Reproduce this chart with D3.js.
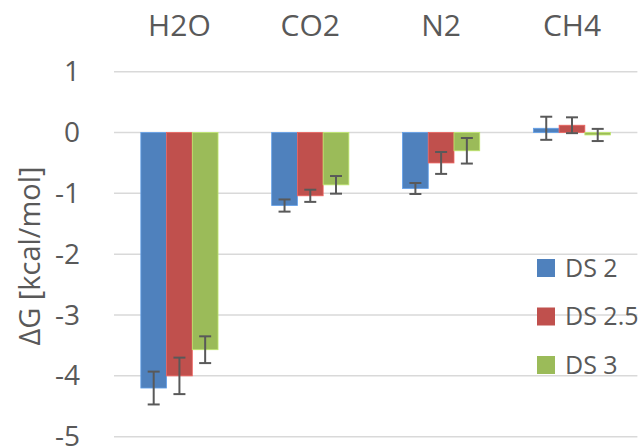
<!DOCTYPE html>
<html>
<head>
<meta charset="utf-8">
<script src="https://cdn.jsdelivr.net/npm/d3@7"></script>
<style>
  body { margin: 0; background: #fff; }
  text { font-family: "Open Sans", "Noto Sans", sans-serif; fill: #595959; }
</style>
</head>
<body>
<script>
// data
var categories = ["H2O", "CO2", "N2", "CH4"];
var seriesNames = ["DS 2", "DS 2.5", "DS 3"];
var ds2 = [-4.20, -1.20, -0.92, 0.07];
var ds25 = [-4.00, -1.04, -0.50, 0.12];
var ds3 = [-3.57, -0.86, -0.30, -0.04];
var ds2Err = [0.27, 0.10, 0.09, 0.19];
var ds25Err = [0.30, 0.10, 0.18, 0.13];
var ds3Err = [0.22, 0.145, 0.21, 0.10];
var yTicks = [1, 0, -1, -2, -3, -4, -5];
var colors = ["#4F81BD", "#C0504D", "#9BBB59"];

var width = 644, height = 448;

var svg = d3.select("body").append("svg")
    .attr("width", width)
    .attr("height", height);

// scales
var x0 = d3.scaleBand()
    .domain(categories)
    .range([114, 637.4])
    .paddingInner(0.41)
    .paddingOuter(0.205);

var x1 = d3.scaleBand()
    .domain(seriesNames)
    .range([0, x0.bandwidth()]);

var y = d3.scaleLinear()
    .domain([-5, 1])
    .range([436.7, 71.7]);

// gridlines
svg.append("g")
  .selectAll("line")
  .data(yTicks)
  .enter().append("line")
    .attr("x1", 114)
    .attr("x2", 637.4)
    .attr("y1", function(d) { return y(d); })
    .attr("y2", function(d) { return y(d); })
    .attr("stroke", "#d9d9d9")
    .attr("stroke-width", 1.5);

// y axis labels (no domain line, no ticks), plain hyphen for minus
var yAxis = svg.append("g")
    .attr("transform", "translate(80,0)")
    .call(d3.axisLeft(y).tickValues(yTicks).tickSize(0).tickPadding(0)
      .tickFormat(function(d) { return String(d); }));
yAxis.select(".domain").remove();
yAxis.selectAll("text")
    .attr("font-size", 28)
    .attr("fill", "#595959")
    .style("font-family", "'Open Sans', sans-serif");

// category labels along the top
svg.append("g")
  .selectAll("text")
  .data(categories)
  .enter().append("text")
    .attr("x", function(d) { return x0(d) + x0.bandwidth() / 2; })
    .attr("y", 36)
    .attr("text-anchor", "middle")
    .attr("font-size", 30)
    .text(function(d) { return d; });

// axis title
svg.append("text")
    .attr("transform", "translate(40,256) rotate(-90)")
    .attr("text-anchor", "middle")
    .attr("font-size", 29)
    .text("\u0394G [kcal/mol]");

// build rows from the arrays
var values = [ds2, ds25, ds3];
var errs = [ds2Err, ds25Err, ds3Err];
var rows = [];
categories.forEach(function(c, i) {
  seriesNames.forEach(function(s, j) {
    rows.push({cat: c, series: s, idx: j, v: values[j][i], e: errs[j][i]});
  });
});

// bars
svg.append("g")
  .selectAll("rect")
  .data(rows)
  .enter().append("rect")
    .attr("x", function(d) { return x0(d.cat) + x1(d.series); })
    .attr("width", x1.bandwidth())
    .attr("y", function(d) { return y(Math.max(0, d.v)); })
    .attr("height", function(d) { return Math.abs(y(d.v) - y(0)); })
    .attr("fill", function(d) { return colors[d.idx]; })
    .attr("stroke", function(d) { return d3.color(colors[d.idx]).brighter(0.6); })
    .attr("stroke-width", 0.8);

// error bars
var eb = svg.append("g")
    .attr("stroke", "#595959")
    .attr("stroke-width", 2)
  .selectAll("g")
  .data(rows)
  .enter().append("g")
    .attr("transform", function(d) { return "translate(" + (x0(d.cat) + x1(d.series) + x1.bandwidth() / 2) + ",0)"; });

eb.append("line")
    .attr("y1", function(d) { return y(d.v + d.e); })
    .attr("y2", function(d) { return y(d.v - d.e); });
eb.append("line")
    .attr("x1", -6).attr("x2", 6)
    .attr("y1", function(d) { return y(d.v + d.e); })
    .attr("y2", function(d) { return y(d.v + d.e); });
eb.append("line")
    .attr("x1", -6).attr("x2", 6)
    .attr("y1", function(d) { return y(d.v - d.e); })
    .attr("y2", function(d) { return y(d.v - d.e); });

// legend
var legend = svg.append("g")
  .selectAll("g")
  .data(seriesNames)
  .enter().append("g")
    .attr("transform", function(d, i) { return "translate(537," + (268 + i * 48.5) + ")"; });

legend.append("rect")
    .attr("y", -9)
    .attr("width", 18)
    .attr("height", 18)
    .attr("fill", function(d, i) { return colors[i]; });

legend.append("text")
    .attr("x", 28)
    .attr("dy", "0.35em")
    .attr("font-size", 25)
    .text(function(d) { return d; });
</script>
</body>
</html>
